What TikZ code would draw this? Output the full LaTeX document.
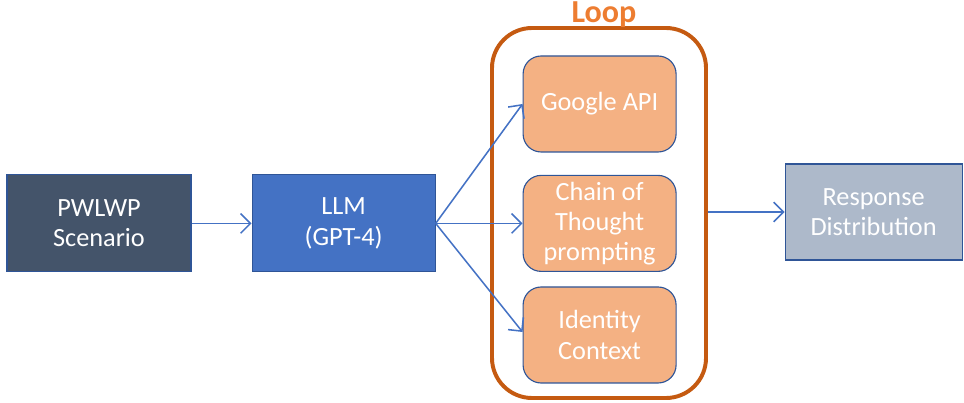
\documentclass[tikz,border=0pt]{standalone}
\usepackage{fontspec}
\setmainfont{Carlito}
\usetikzlibrary{arrows.meta}
\definecolor{slate}{HTML}{44546A}
\definecolor{llmblue}{HTML}{4472C4}
\definecolor{peach}{HTML}{F4B183}
\definecolor{rust}{HTML}{C55A11}
\definecolor{loopor}{HTML}{ED7D31}
\definecolor{greyblue}{HTML}{ADB9CA}
\definecolor{edgeblue}{HTML}{2F5597}
\tikzset{
  box/.style={draw=edgeblue, line width=0.8pt, text=white, align=center,
    font=\fontsize{18.7}{21.5}\selectfont, inner sep=0pt},
  step box/.style={box, fill=peach, rounded corners=0.45cm,
    minimum width=3.825cm, minimum height=2.4cm},
  arr/.style={-{Straight Barb[length=7pt,width=14pt]}, draw=llmblue, line width=1.1pt}
}
\begin{document}
\begin{tikzpicture}
\useasboundingbox (0,0) rectangle (24.1,10.075);
\node[box, fill=slate, minimum width=4.6cm, minimum height=2.425cm] (pw) at (2.475,4.49) {PWLWP\\Scenario};
\node[box, fill=llmblue, minimum width=4.575cm, minimum height=2.425cm] (llm) at (8.59,4.49) {LLM\\(GPT-4)};
\draw[arr] (pw) -- (llm);
% the loop frame
\node[draw=rust, line width=2.8pt, rounded corners=1cm, minimum width=5.35cm, minimum height=9.25cm] (loop) at (14.975,4.75) {};
\node[text=loopor, font=\fontsize{22.8}{26}\selectfont\bfseries] (looplbl) at (15.1,9.72) {Loop};
\node[step box] (google) at (14.99,7.475) {Google API};
\node[step box] (cot) at (14.99,4.49) {Chain of\\Thought\\prompting};
\node[step box] (ident) at (14.99,1.7) {Identity\\Context};
\draw[arr] (llm.east) -- (google.west);
\draw[arr] (llm.east) -- (cot.west);
\draw[arr] (llm.east) -- ([yshift=0.075cm]ident.west);
\node[box, fill=greyblue, minimum width=4.425cm, minimum height=2.4cm] (resp) at (21.84,4.775) {Response\\Distribution};
\draw[arr] (loop.east |- resp.west) -- (resp.west);
\end{tikzpicture}
\end{document}
